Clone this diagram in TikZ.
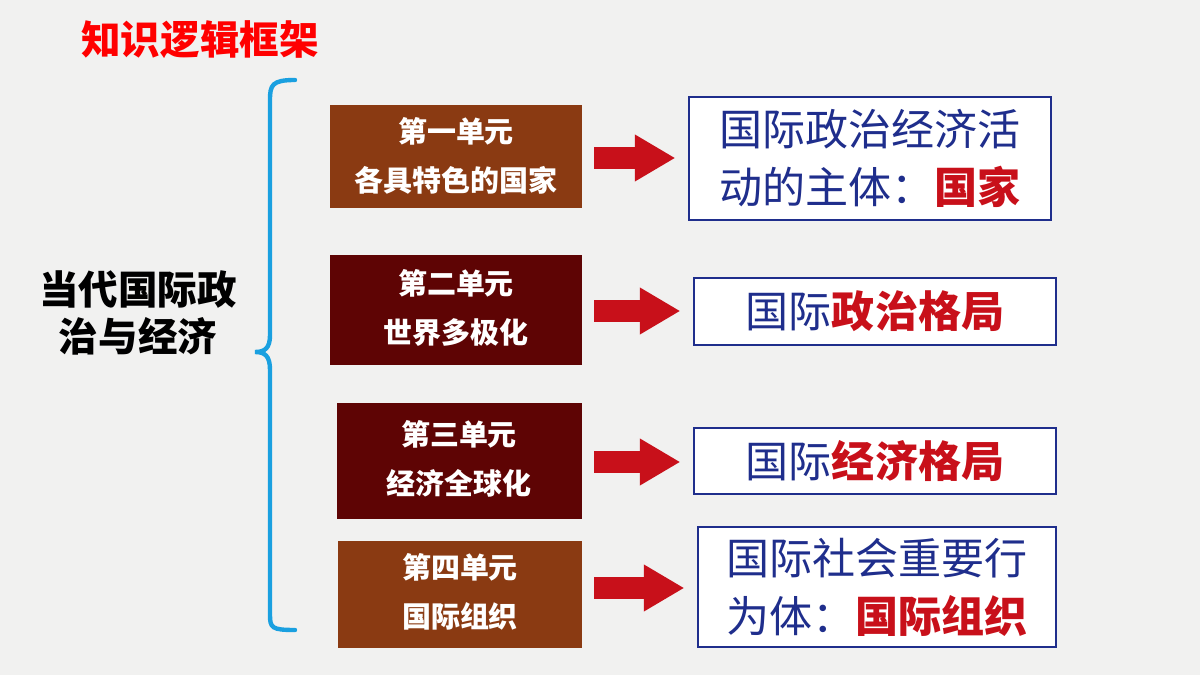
\documentclass[tikz,border=0pt]{standalone}
\usepackage{fontspec}
\setmainfont{Noto Sans CJK SC}
\newfontfamily\cjkb{Noto Sans CJK SC}[UprightFont=*, BoldFont=* Bold]
\usetikzlibrary{arrows.meta,positioning}
\definecolor{unitbrown}{HTML}{8A3A12}
\definecolor{unitred}{HTML}{5E0404}
\definecolor{textblue}{HTML}{1F2E8C}
\definecolor{arrowred}{HTML}{C8101A}
\definecolor{bracecol}{HTML}{1AA0E0}
\definecolor{paper}{HTML}{F1F1F0}
\newcommand{\hot}[1]{{\bfseries\color{arrowred}#1}}
\begin{document}
\begin{tikzpicture}[x=0.02cm, y=-0.02cm]
  \tikzset{
    unit/.style={draw=none, text=white, font=\bfseries\fontsize{16.5}{28}\selectfont,
      align=center, inner sep=0pt, text width=240*0.567pt},
    result/.style={draw=textblue, line width=1.2pt, fill=white, text=textblue,
      font=\fontsize{24.5}{33}\selectfont, align=center, inner sep=0pt},
    conn/.style={draw=arrowred, line width=12pt, -{Triangle[length=23pt,width=25pt]},
      shorten <=7pt, shorten >=7pt}
  }
  \fill[paper] (0,0) rectangle (1200,675);
  \useasboundingbox (0,0) rectangle (1200,675);

  % title and topic
  \node[text=red, font=\bfseries\fontsize{22.5}{24}\selectfont] (title) at (200,40) {知识逻辑框架};
  \node[font=\bfseries\fontsize{22.5}{27}\selectfont, align=center] (topic) at (138,313) {当代国际政\\治与经济};

  % brace
  \draw[bracecol, line width=2.5pt, line cap=round]
    (295,80) .. controls (272,80) and (270,85) .. (270,100) -- (270,335)
    .. controls (270,348) and (265,352) .. (255,352)
    .. controls (265,352) and (270,356) .. (270,370) -- (270,615)
    .. controls (270,628) and (272,630) .. (295,630);

  % units
  \path[fill=unitbrown] (330,105) rectangle (582,208);
  \node[unit] (u1) at (456,156) {第一单元\\各具特色的国家};
  \path[fill=unitred] (330,255) rectangle (582,365);
  \node[unit] (u2) at (456,308) {第二单元\\世界多极化};
  \path[fill=unitred] (337,403) rectangle (582,519);
  \node[unit] (u3) at (459,459) {第三单元\\经济全球化};
  \path[fill=unitbrown] (338,541) rectangle (582,648);
  \node[unit] (u4) at (460,592) {第四单元\\国际组织};
  \coordinate (e1) at (582,158);
  \coordinate (e2) at (582,311);
  \coordinate (e3) at (582,462);
  \coordinate (e4) at (582,588);

  % results
  \node[result, minimum width=364*0.567pt, minimum height=123*0.567pt] (r1) at (870,158.5)
    {国际政治经济活\\动的主体：\hot{国家}};
  \node[result, minimum width=364*0.567pt, minimum height=67*0.567pt] (r2) at (875,311.5)
    {国际\hot{政治格局}};
  \node[result, minimum width=364*0.567pt, minimum height=66*0.567pt] (r3) at (875,461)
    {国际\hot{经济格局}};
  \node[result, minimum width=360*0.567pt, minimum height=120*0.567pt] (r4) at (877,587)
    {国际社会重要行\\为体：\hot{国际组织}};

  % arrows
  \draw[conn] (e1) -- (r1.west |- e1);
  \draw[conn] (e2) -- (r2.west |- e2);
  \draw[conn] (e3) -- (r3.west |- e3);
  \draw[conn] (e4) -- (r4.west |- e4);
\end{tikzpicture}
\end{document}
